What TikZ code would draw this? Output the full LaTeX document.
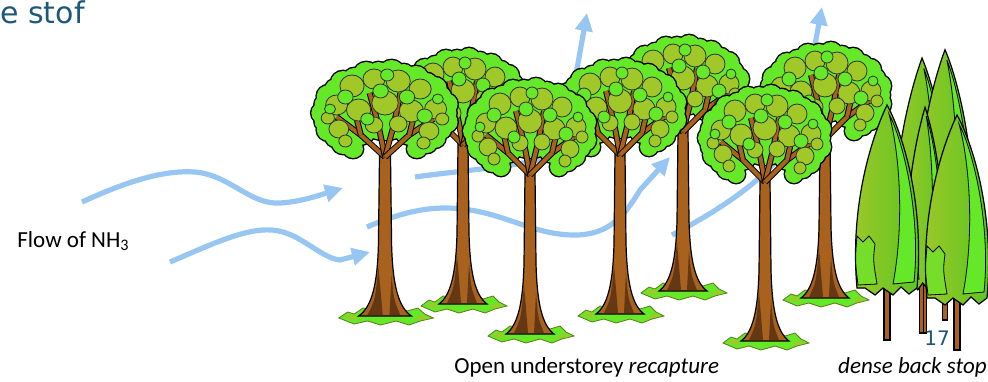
\documentclass[tikz,border=0pt]{standalone}
\usepackage{fontspec}
\setmainfont{Carlito}
\newfontfamily\slidefont{DejaVu Sans}
\usetikzlibrary{arrows.meta}

\definecolor{slideteal}{RGB}{28,88,120}
\definecolor{flowblue}{RGB}{152,198,242}
\definecolor{leafgreen}{RGB}{100,232,40}
\definecolor{leafolive}{RGB}{160,200,40}
\definecolor{barkbrown}{RGB}{168,98,30}
\definecolor{barkdark}{RGB}{100,56,20}

% crown circles x/y/r, local to the foot of a tree
\newcommand{\CrownBlobs}{45/-177/10, 51/-185/9, 55/-193/11, 56/-202/9, 55/-211/11,
  51/-219/9, 45/-227/11, 38/-233/9, 28/-238/11, 17/-242/9, 6/-244/11,
  -6/-244/9, -17/-242/11, -28/-238/9, -38/-233/11, -45/-227/9, -51/-219/11,
  -55/-211/9, -56/-202/11, -55/-193/9, -51/-185/11, -45/-177/9,
  -38/-171/10, 38/-171/9, -29/-166/9, 29/-166/9,
  0/-205/30, -28/-205/24, 28/-205/24, 0/-228/22, -24/-186/16, 24/-186/16,
  -20/-226/16, 20/-226/16}
\newcommand{\LeafBlobs}{-44/-210/10, -30/-229/11, -10/-236/10, 12/-234/11, 32/-226/10,
  46/-206/10, -24/-205/11, 0/-212/12, 24/-204/11, -42/-186/9, 40/-184/9,
  -10/-190/8, 12/-191/8, -52/-197/6, 52/-196/6, -36/-174/6, 35/-172/6}
\newcommand{\BrightBlobs}{-36/-218/7, 20/-218/7, -4/-224/7, 36/-199/7,
  -16/-196/6, 2/-240/6, -50/-206/5, 48/-216/5}

\begin{document}
\begin{tikzpicture}[x=0.5pt,y=-0.5pt]

    \tikzset{
      FlowStyle/.style = {draw=flowblue, line width=2.6pt,
                          -{Triangle[length=9pt,width=8.5pt]}},
      TextStyle/.style = {inner sep=0pt, font=\fontsize{11.5}{14}\selectfont},
      TrunkStyle/.style = {fill=barkbrown, draw=black, line width=0.6pt},
      BranchStyle/.style = {draw=black, line width=0.5pt, double=barkbrown,
                            double distance=2pt, line join=round},
      GrassStyle/.style = {fill=leafgreen, draw=leafolive!60!black, line width=0.4pt},
      LeafStyle/.style = {fill=leafolive, draw=black!80, line width=0.4pt},
      BrightStyle/.style = {fill=leafgreen, draw=black!80, line width=0.4pt},
      Broadleaf/.pic = {
        \filldraw[GrassStyle] (-42,3) -- (-34,-3) -- (-28,-1) -- (-20,-7) -- (-8,-5)
          -- (10,-8) -- (20,-4) -- (30,-7) -- (36,-1) -- (44,3) -- (32,6) -- (22,10)
          -- (10,6) -- (-4,10) -- (-16,6) -- (-28,9) -- cycle;
        \fill[leafolive] (-38,3) -- (-30,-1) -- (-24,5) -- cycle;
        \fill[leafolive] (26,5) -- (34,0) -- (40,4) -- cycle;
        \filldraw[TrunkStyle] (-24,1) .. controls (-12,-8) and (-7,-30) .. (-6,-70)
          -- (-5,-160) -- (5,-160) -- (6,-70) .. controls (7,-30) and (12,-8) .. (24,1) -- cycle;
        \fill[barkdark] (-16,0) .. controls (-9,-15) .. (-6,-48) -- (-2,0) -- cycle;
        \fill[barkdark] (4,0) -- (6,-40) .. controls (8,-15) .. (14,0) -- cycle;
        \foreach \cx/\cy/\cr in \CrownBlobs
          \draw[line width=1.4pt] (\cx,\cy) circle (\cr);
        \foreach \cx/\cy/\cr in \CrownBlobs
          \fill[leafgreen] (\cx,\cy) circle (\cr);
        \draw[BranchStyle] (0,-158) -- (-22,-180) -- (-44,-198);
        \draw[BranchStyle] (-22,-180) -- (-28,-206);
        \draw[BranchStyle] (0,-158) -- (-6,-190) -- (-14,-222);
        \draw[BranchStyle] (0,-158) -- (8,-190) -- (14,-222);
        \draw[BranchStyle] (0,-158) -- (22,-180) -- (44,-196);
        \draw[BranchStyle] (22,-180) -- (28,-206);
        \foreach \cx/\cy/\cr in \LeafBlobs
          \filldraw[LeafStyle] (\cx,\cy) circle (\cr);
        \foreach \cx/\cy/\cr in \BrightBlobs
          \filldraw[BrightStyle] (\cx,\cy) circle (\cr);
      },
      Cypress/.pic = {
        \filldraw[TrunkStyle] (-3,0) rectangle (3,-60);
        \filldraw[left color=leafolive, right color=leafgreen!85!black, draw=black,
                  line width=0.6pt]
          (-30,-52) .. controls (-38,-140) and (-12,-210) .. (0,-235)
          .. controls (14,-210) and (38,-140) .. (30,-52)
          -- (22,-46) -- (14,-53) -- (6,-45) -- (-4,-52) -- (-12,-45) -- (-22,-52) -- cycle;
        \filldraw[fill=leafgreen, draw=black, line width=0.4pt]
          (6,-56) .. controls (18,-120) and (12,-190) .. (2,-226)
          .. controls (16,-200) and (34,-125) .. (27,-58) -- cycle;
        \filldraw[fill=leafgreen!70!leafolive, draw=black, line width=0.4pt]
          (-29,-55) .. controls (-32,-80) .. (-30,-104) -- (-24,-98) -- (-18,-104)
          -- (-12,-96) .. controls (-14,-80) .. (-10,-56) -- cycle;
      }
    }

    \useasboundingbox (0,0) rectangle (988,381);

    % air flow
    \draw[FlowStyle] (82,202) .. controls (130,180) and (165,170) .. (195,172)
      .. controls (230,175) and (250,205) .. (280,203)
      .. controls (300,202) and (320,195) .. (343,188);
    \draw[FlowStyle] (170,262) .. controls (210,245) and (245,228) .. (272,230)
      .. controls (300,232) and (320,258) .. (340,260) -- (370,252);
    \draw[FlowStyle] (367,227) .. controls (395,215) and (420,208) .. (445,208)
      .. controls (500,208) and (530,236) .. (577,235)
      .. controls (610,234) and (625,215) .. (640,190) -- (670,157);
    \draw[FlowStyle] (415,177) .. controls (450,172) and (500,168) .. (540,160)
      .. controls (565,150) and (570,120) .. (575,80) -- (587,13);
    \draw[FlowStyle] (672,235) .. controls (710,215) and (760,185) .. (785,150)
      .. controls (805,120) and (810,80) .. (814,50) -- (822,7);

    % open understorey
    \pic at (683,290) {Broadleaf};
    \pic at (825,297) {Broadleaf};
    \pic at (463,303) {Broadleaf};
    \pic[xscale=1.1] at (385,315) {Broadleaf};
    \pic at (620,313) {Broadleaf};
    \pic at (530,333) {Broadleaf};
    \pic at (765,340) {Broadleaf};

    % back stop
    \pic[xscale=0.9,yscale=1.17] at (922,333) {Cypress};
    \pic[xscale=0.9,yscale=1.15] at (945,320) {Cypress};
    \pic[xscale=0.6,yscale=0.96] at (925,333) {Cypress};
    \pic at (887,340) {Cypress};
    \pic at (957,350) {Cypress};

    \node[anchor=base west, inner sep=0pt, text=slideteal,
          font=\slidefont\fontsize{15}{18}\selectfont] (titel) at (0,23) {e stof};
    \node[TextStyle, anchor=base west] (flow) at (17,247) {Flow of NH\textsubscript{3}};
    \node[TextStyle, anchor=base west] (open) at (454,373) {Open understorey \textit{recapture}};
    \node[TextStyle, anchor=base east] (backstop) at (987,373) {\textit{dense back stop}};
    \node[anchor=base west, inner sep=0pt, text=slideteal,
          font=\slidefont\fontsize{10}{12}\selectfont] (slidenr) at (924,345) {17};
\end{tikzpicture}
\end{document}
